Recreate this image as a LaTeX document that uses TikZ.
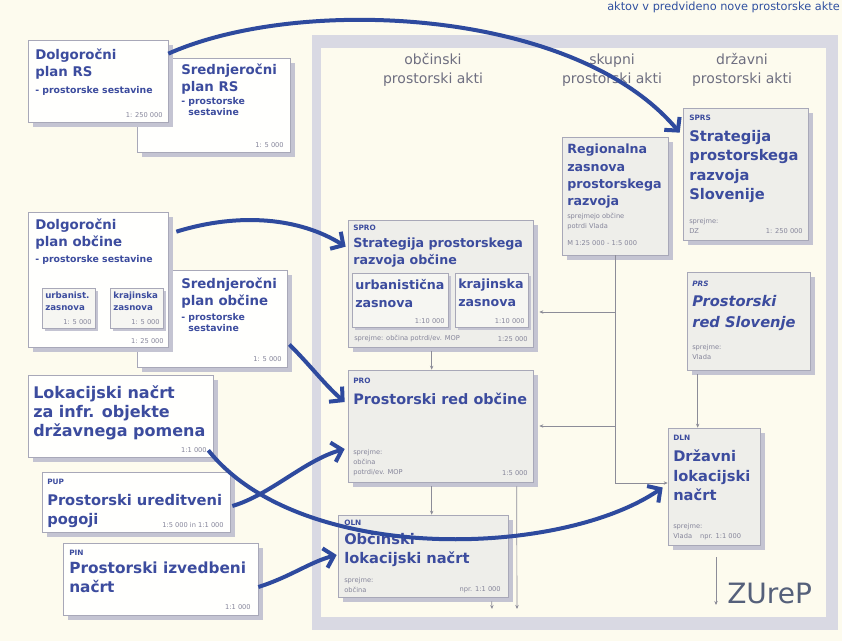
\documentclass[tikz,border=0pt]{standalone}
\usepackage{fontspec}
\setmainfont{DejaVu Sans}
\usetikzlibrary{fit,shadows,arrows.meta,calc}
\newcommand\fsz[2]{\fontsize{#1}{#2}\selectfont}
\definecolor{cream}{HTML}{FDFBEE}
\definecolor{framec}{HTML}{D9D9E3}
\definecolor{bordc}{HTML}{A8A8B8}
\definecolor{shadowc}{HTML}{C4C4D2}
\definecolor{ofill}{HTML}{FFFFFD}
\definecolor{ifill}{HTML}{EEEEEA}
\definecolor{sfill}{HTML}{F6F6F2}
\definecolor{txtblue}{HTML}{3C4C9E}
\definecolor{graytxt}{HTML}{85859A}
\definecolor{arrblue}{HTML}{2E4A9E}
\definecolor{linec}{HTML}{8C8C98}
\definecolor{headc}{HTML}{6E6E80}
\definecolor{zurepc}{HTML}{55607A}
\definecolor{hdrblue}{HTML}{3050A0}
\newcommand\mkbox[6]{\path (#3,#4) coordinate (#2-a) (#5,#6) coordinate (#2-b);
  \node[#1, fit=(#2-a)(#2-b)] (#2) {};}
\tikzset{
  basebox/.style={draw=bordc, line width=0.5pt, inner sep=0pt,
    drop shadow={shadow xshift=3.5pt, shadow yshift=-3.5pt, fill=shadowc, opacity=1}},
  obox/.style={basebox, fill=ofill},
  ibox/.style={basebox, fill=ifill},
  sbox/.style={draw=bordc, line width=0.5pt, inner sep=0pt, fill=sfill,
    drop shadow={shadow xshift=2pt, shadow yshift=-2pt, fill=shadowc, opacity=1}},
  ttl/.style 2 args={font=\bfseries\fsz{#1}{#2}, text=txtblue, inner sep=0pt, anchor=north west, align=left},
  ttli/.style 2 args={font=\bfseries\itshape\fsz{#1}{#2}, text=txtblue, inner sep=0pt, anchor=north west, align=left},
  sml/.style={font=\fsz{5}{7.5}, text=graytxt, inner sep=0pt, align=left},
  tag/.style={font=\bfseries\fsz{5.5}{6.5}, text=txtblue, inner sep=0pt, anchor=north west},
  head/.style={font=\fsz{10.5}{14}, text=headc, inner sep=0pt, align=center},
  conn/.style={draw=linec, line width=0.5pt, -{Stealth[length=3pt,width=2.6pt]}},
  bigarr/.style={draw=arrblue, line width=3pt, -{Straight Barb[length=7pt,width=15pt]}},
}
\begin{document}
\begin{tikzpicture}[x=0.75pt,y=-0.75pt]
\useasboundingbox (0,0) rectangle (842,641);
\clip (0,0) rectangle (842,641);
\fill[cream] (0,0) rectangle (842,641);
\node[anchor=base east, font=\fsz{8.5}{10}, text=hdrblue, inner sep=0pt] (hdr) at (840,11) {aktov v predvideno nove prostorske akte};
% frame
\fill[framec] (312,35) rectangle (838,630);
\fill[cream] (321,48) rectangle (826,617);
\node[head] (h1) at (433,70) {občinski\\prostorski akti};
\node[head] (h2) at (612,70) {skupni\\prostorski akti};
\node[head] (h3) at (742,70) {državni\\prostorski akti};

% ---- left column boxes
\mkbox{obox}{rs2}{137}{58}{290}{152}
\node[ttl={10}{12.75}] (rs2t) at (181,64) {Srednjeročni\\plan RS};
\node[ttl={7}{8.5}] (rs2s) at (181,97) {- prostorske\\\phantom{- }sestavine};
\node[sml, anchor=south east] (rs2m) at (284,148) {1: 5 000};

\mkbox{obox}{rs1}{28}{40}{168}{122}
\node[ttl={10}{12.75}] (rs1t) at (35,49) {Dolgoročni\\plan RS};
\node[ttl={7}{8.5}] (rs1s) at (35,86) {- prostorske sestavine};
\node[sml, anchor=south east] (rs1m) at (163,118) {1: 250 000};

\mkbox{obox}{ob2}{137}{270}{287}{367}
\node[ttl={10}{12.75}] (ob2t) at (181,278) {Srednjeročni\\plan občine};
\node[ttl={7}{8.5}] (ob2s) at (181,313) {- prostorske\\\phantom{- }sestavine};
\node[sml, anchor=south east] (ob2m) at (282,362) {1: 5 000};

\mkbox{obox}{ob1}{28}{212}{168}{347}
\node[ttl={10}{12.75}] (ob1t) at (35,219) {Dolgoročni\\plan občine};
\node[ttl={7}{8.5}] (ob1s) at (35,255) {- prostorske sestavine};
\mkbox{sbox}{ob1u}{42}{288}{95}{328}
\node[ttl={6.5}{8.5}] (ob1ut) at (45,292) {urbanist.\\zasnova};
\node[sml, anchor=south east] (ob1um) at (92,325) {1: 5 000};
\mkbox{sbox}{ob1k}{110}{288}{163}{328}
\node[ttl={6.5}{8.5}] (ob1kt) at (113,292) {krajinska\\zasnova};
\node[sml, anchor=south east] (ob1km) at (160,325) {1: 5 000};
\node[sml, anchor=south east] (ob1m) at (164,344) {1: 25 000};

\mkbox{obox}{ln}{28}{375}{213}{457}
\node[ttl={12}{14.25}] (lnt) at (33,385) {Lokacijski načrt\\za infr. objekte\\državnega pomena};
\node[sml, anchor=south east] (lnm) at (207,453) {1:1 000};

\mkbox{obox}{pup}{42}{472}{230}{532}
\node[tag] (pupg) at (47,479) {PUP};
\node[ttl={11}{14}] (pupt) at (47,494) {Prostorski ureditveni\\pogoji};
\node[sml, anchor=south east] (pupm) at (224,528) {1:5 000 in 1:1 000};

\mkbox{obox}{pin}{63}{543}{258}{615}
\node[tag] (ping) at (69,550) {PIN};
\node[ttl={11.5}{14}] (pint) at (69,562) {Prostorski izvedbeni\\načrt};
\node[sml, anchor=south east] (pinm) at (251,610) {1:1 000};

% ---- municipal column
\mkbox{ibox}{spro}{348}{220}{533}{347}
\node[tag] (sprog) at (353,225) {SPRO};
\node[ttl={9.5}{12.5}] (sprot) at (353,238) {Strategija prostorskega\\razvoja občine};
\mkbox{sbox}{sprou}{352}{273}{448}{327}
\node[ttl={9.5}{13.5}] (sprout) at (355,279) {urbanistična\\zasnova};
\node[sml, anchor=south east] (sproum) at (445,324) {1:10 000};
\mkbox{sbox}{sprok}{455}{273}{528}{327}
\node[ttl={9.5}{13.5}] (sprokt) at (458,279) {krajinska\\zasnova};
\node[sml, anchor=south east] (sprokm) at (525,324) {1:10 000};
\node[sml, anchor=south west] (sprob) at (354,342) {sprejme: občina potrdi/ev. MOP};
\node[sml, anchor=south east] (sprom) at (528,342) {1:25 000};

\mkbox{ibox}{pro}{348}{370}{533}{482}
\node[tag] (prog) at (353,378) {PRO};
\node[ttl={10.8}{13}] (prot) at (353,393) {Prostorski red občine};
\node[sml, anchor=south west] (prob) at (353,476) {sprejme:\\občina\\potrdi/ev. MOP};
\node[sml, anchor=south east] (prom) at (528,476) {1:5 000};

\mkbox{ibox}{oln}{338}{515}{508}{597}
\node[tag] (olng) at (344,520) {OLN};
\node[ttl={11}{14}] (olnt) at (344,533) {Občinski\\lokacijski načrt};
\node[sml, anchor=south west] (olnb) at (344,593) {sprejme:\\občina};
\node[sml, anchor=south east] (olnm) at (501,593) {npr. 1:1 000};

% ---- joint column
\mkbox{ibox}{reg}{562}{137}{668}{255}
\node[ttl={9.5}{13}] (regt) at (567,144) {Regionalna\\zasnova\\prostorskega\\razvoja};
\node[sml, anchor=north west] (regb) at (567,213) {sprejmejo občine\\potrdi Vlada};
\node[sml, anchor=north west] (regm) at (567,240) {M 1:25 000 - 1:5 000};

% ---- state column
\mkbox{ibox}{sprs}{683}{108}{808}{240}
\node[tag] (sprsg) at (689,115) {SPRS};
\node[ttl={11}{14.5}] (sprst) at (689,130) {Strategija\\prostorskega\\razvoja\\Slovenije};
\node[sml, anchor=south west] (sprsb) at (689,234) {sprejme:\\DZ};
\node[sml, anchor=south east] (sprsm) at (803,234) {1: 250 000};

\mkbox{ibox}{prs}{687}{272}{810}{370}
\node[tag, font=\bfseries\itshape\fsz{5.5}{6.5}] (prsg) at (692,281) {PRS};
\node[ttli={11}{15.5}] (prst) at (692,295) {Prostorski\\red Slovenje};
\node[sml, anchor=north west] (prsb) at (692,344) {sprejme:\\Vlada};

\mkbox{ibox}{dln}{668}{428}{760}{545}
\node[tag] (dlng) at (673,435) {DLN};
\node[ttl={11}{14.5}] (dlnt) at (673,450) {Državni\\lokacijski\\načrt};
\node[sml, anchor=south west] (dlnb) at (673,540) {sprejme:\\Vlada\hspace{6pt}npr. 1:1 000};

\node[font=\fsz{21}{24}, text=zurepc, inner sep=0pt, anchor=base west] (zurep) at (727,603) {ZUreP};

% ---- thin connectors
\coordinate (j1) at (615,483);
\coordinate (jspro) at (615,312);
\coordinate (jpro) at (615,426);
\draw[conn] (reg.south) -- (j1) -- (dln.west |- j1);
\draw[conn] (jspro) -- ($(spro.east |- jspro)+(6,0)$);
\draw[conn] (jpro) -- ($(pro.east |- jpro)+(6,0)$);
\coordinate (p1) at ($(prs.south west)+(11,4)$);
\draw[conn] (p1) -- (p1 |- dln.north);
\coordinate (p2) at ($(spro.south west)+(84,4)$);
\draw[conn] (p2) -- (p2 |- pro.north);
\coordinate (p3) at ($(pro.south west)+(84,4)$);
\draw[conn] (p3) -- (p3 |- oln.north);
\coordinate (p4) at ($(pro.south west)+(169,4)$);
\coordinate (e4) at (517,609);
\draw[conn] (p4) -- (e4);
\coordinate (p5) at ($(oln.south west)+(154,4)$);
\coordinate (e5) at (492,609);
\draw[conn] (p5) -- (e5);
\coordinate (p6) at (716,557);
\coordinate (e6) at (716,605);
\draw[conn] (p6) -- (e6);

% ---- thick blue arrows
\coordinate (a1s) at ($(rs1.north east)+(0,14)$);
\coordinate (a1e) at ($(sprs.north west)+(-3,25)$);
\draw[bigarr] (a1s) .. controls (300,-5) and (575,8) .. (a1e);
\coordinate (a2s) at ($(ob1.north east)+(8,20)$);
\coordinate (a2e) at ($(spro.north west)+(-2,27)$);
\draw[bigarr] (a2s) .. controls (240,212) and (300,218) .. (a2e);
\coordinate (a3s) at ($(ob2.east)+(2,26)$);
\coordinate (a3e) at ($(pro.west)+(-3,-24)$);
\draw[bigarr] (a3s) .. controls (310,365) and (325,385) .. (a3e);
\coordinate (a4s) at ($(ln.south east)+(-5,-7)$);
\coordinate (a4e) at ($(dln.west)+(-5,1)$);
\draw[bigarr] (a4s) .. controls (300,565) and (560,558) .. (a4e);
\coordinate (a5s) at ($(pup.east)+(2,4)$);
\coordinate (a5e) at ($(pro.west)+(-3,23)$);
\draw[bigarr] (a5s) .. controls (270,495) and (305,460) .. (a5e);
\coordinate (a6s) at ($(pin.east)+(0,8)$);
\coordinate (a6e) at ($(oln.west)+(-1,-1)$);
\draw[bigarr] (a6s) .. controls (290,577) and (310,562) .. (a6e);
\end{tikzpicture}
\end{document}
